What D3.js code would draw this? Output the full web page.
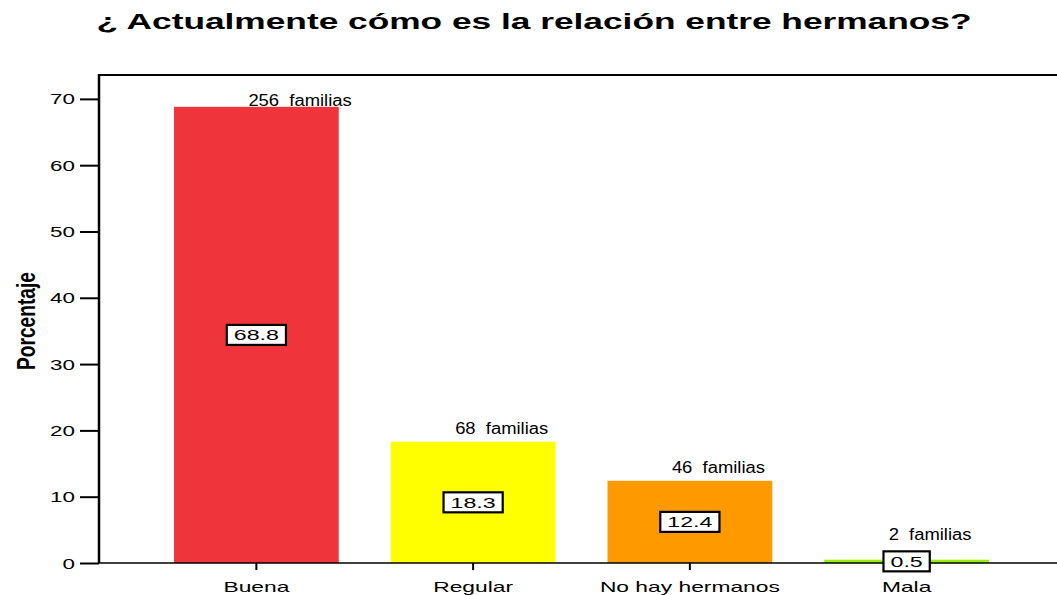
<!DOCTYPE html>
<html>
<head>
<meta charset="utf-8">
<script src="https://cdn.jsdelivr.net/npm/d3@7"></script>
<style>
  body { margin: 0; background: #fff; }
  text { font-family: "Liberation Sans", Arial, sans-serif; fill: #000; }
</style>
</head>
<body>
<div id="chart"></div>
<script>
// chart data
var categories = ["Buena", "Regular", "No hay hermanos", "Mala"];
var percentages = [68.8, 18.3, 12.4, 0.5];
var familias = [256, 68, 46, 2];
var yTicks = [0, 10, 20, 30, 40, 50, 60, 70];
var barColors = ["#f0343c", "#ffff00", "#ff9900", "#99ee11"];

var svgWidth = 1057;
var svgHeight = 595;

var margin = { top: 75, left: 99, bottom: 32 };
var plotBottom = svgHeight - margin.bottom;

var svg = d3.select("#chart")
    .append("svg")
    .attr("width", svgWidth)
    .attr("height", svgHeight);

// stretch text horizontally (the original is wider than the font)
function stretch(sel, k) {
    sel.each(function () {
        var w = this.getComputedTextLength();
        d3.select(this)
            .attr("textLength", w * k)
            .attr("lengthAdjust", "spacingAndGlyphs");
    });
}

// scales
var xScale = d3.scaleBand()
    .domain(categories)
    .range([148, 1015])
    .paddingInner(0.24)
    .paddingOuter(0.12);

var yScale = d3.scaleLinear()
    .domain([0, 73.6])
    .range([plotBottom, margin.top]);

// title
svg.append("text")
    .attr("x", 534)
    .attr("y", 29)
    .attr("text-anchor", "middle")
    .style("font-size", "22px")
    .style("font-weight", "bold")
    .attr("textLength", 875)
    .attr("lengthAdjust", "spacingAndGlyphs")
    .text("¿ Actualmente cómo es la relación entre hermanos?");

// bars
svg.selectAll(".bar")
    .data(percentages)
    .enter()
    .append("rect")
    .attr("class", "bar")
    .attr("x", (d, i) => xScale(categories[i]))
    .attr("y", d => yScale(d))
    .attr("width", xScale.bandwidth())
    .attr("height", d => yScale(0) - yScale(d))
    .attr("fill", (d, i) => barColors[i]);

// frame lines
svg.append("line")
    .attr("x1", margin.left).attr("x2", svgWidth)
    .attr("y1", margin.top).attr("y2", margin.top)
    .attr("stroke", "#000").attr("stroke-width", 2);

svg.append("line")
    .attr("x1", margin.left).attr("x2", svgWidth)
    .attr("y1", plotBottom).attr("y2", plotBottom)
    .attr("stroke", "#000").attr("stroke-width", 1.5);

// y axis
var leftAxis = d3.axisLeft(yScale)
    .tickValues(yTicks)
    .tickSize(19)
    .tickPadding(5)
    .tickSizeOuter(0);

var yAxisG = svg.append("g")
    .attr("transform", `translate(${margin.left}, 0)`)
    .call(leftAxis);

yAxisG.select(".domain").remove();
yAxisG.selectAll(".tick line").attr("stroke", "#000").attr("stroke-width", 2);
yAxisG.selectAll(".tick text")
    .style("font-size", "14px")
    .style("font-family", "'Liberation Sans', Arial, sans-serif")
    .attr("fill", "#000")
    .attr("dy", "0.36em")
    .call(stretch, 1.6);

svg.append("line")
    .attr("x1", margin.left).attr("x2", margin.left)
    .attr("y1", margin.top - 1).attr("y2", plotBottom)
    .attr("stroke", "#000").attr("stroke-width", 2.5);

// x axis (ticks and labels only)
var bottomAxis = d3.axisBottom(xScale)
    .tickSize(7)
    .tickPadding(11)
    .tickSizeOuter(0);

var xAxisG = svg.append("g")
    .attr("transform", `translate(0, ${plotBottom})`)
    .call(bottomAxis);

xAxisG.select(".domain").remove();
xAxisG.selectAll(".tick line").attr("stroke", "#000").attr("stroke-width", 2);
xAxisG.selectAll(".tick text")
    .style("font-size", "15px")
    .style("font-family", "'Liberation Sans', Arial, sans-serif")
    .attr("fill", "#000")
    .call(stretch, 1.52);

// value boxes in the middle of each bar
var boxes = svg.selectAll(".valbox")
    .data(percentages)
    .enter()
    .append("g")
    .attr("class", "valbox")
    .attr("transform", (d, i) =>
        `translate(${xScale(categories[i]) + xScale.bandwidth() / 2}, ${(yScale(d) + yScale(0)) / 2})`);

boxes.append("rect");
boxes.append("text")
    .attr("text-anchor", "middle")
    .attr("dy", "0.36em")
    .style("font-size", "14.5px")
    .text(d => d.toFixed(1))
    .call(stretch, 1.6);

boxes.each(function () {
    var t = d3.select(this).select("text").node();
    var w = +t.getAttribute("textLength");
    d3.select(this).select("rect")
        .attr("x", -w / 2 - 7)
        .attr("y", -10)
        .attr("width", w + 14)
        .attr("height", 20)
        .attr("fill", "#fff")
        .attr("stroke", "#000")
        .attr("stroke-width", 2.2);
});

// family count labels above bars
svg.selectAll(".famlabel")
    .data(familias)
    .enter()
    .append("text")
    .attr("class", "famlabel")
    .attr("x", (d, i) => xScale(categories[i]) + xScale.bandwidth() / 2 - (i === 0 ? 8 : 18))
    .attr("y", (d, i) => {
        var yy = yScale(percentages[i]) - 8;
        return Math.max(yScale(70) + 7, Math.min(yy, yScale(0) - 23));
    })
    .style("font-size", "16px")
    .text(d => d + "\u00a0\u00a0familias")
    .call(stretch, 1.15);

// y axis title
svg.append("text")
    .attr("transform", "translate(35, 321) rotate(-90)")
    .attr("text-anchor", "middle")
    .style("font-family", "'Liberation Sans Narrow', 'Arial Narrow', 'Liberation Sans', sans-serif")
    .style("font-size", "25px")
    .style("font-weight", "bold")
    .attr("textLength", 98)
    .attr("lengthAdjust", "spacingAndGlyphs")
    .text("Porcentaje");
</script>
</body>
</html>
